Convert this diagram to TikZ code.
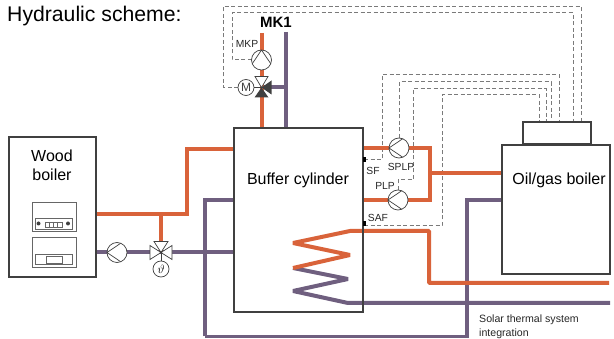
\documentclass[tikz,border=0pt]{standalone}
\usepackage{fontspec}
\setmainfont{Liberation Sans}
\usetikzlibrary{calc,backgrounds}
\definecolor{hotpipe}{HTML}{D9633A}
\definecolor{coldpipe}{HTML}{6F5F7F}
\definecolor{boxline}{HTML}{404040}
\definecolor{signalline}{HTML}{7A7A7A}
\tikzset{
  hot/.style={draw=hotpipe,line width=4pt},
  cold/.style={draw=coldpipe,line width=4pt},
  signal/.style={draw=signalline,line width=1pt,dash pattern=on 4pt off 2.5pt},
  box/.style={draw=boxline,line width=2pt,outer sep=0pt,inner sep=0pt},
  panel/.style={draw=boxline!80,line width=0.8pt},
  pump/.style={circle,draw=boxline,fill=white,line width=0.7pt,minimum size=20pt,inner sep=0pt,outer sep=0pt,
    path picture={\draw[boxline,line width=0.7pt] ($(path picture bounding box.center)+(#1+112:10pt)$) --
      ($(path picture bounding box.center)+(#1:10pt)$) -- ($(path picture bounding box.center)+(#1-112:10pt)$);}},
  dial/.style={circle,draw=boxline,fill=white,line width=0.7pt,minimum size=16pt,inner sep=0pt,outer sep=0pt},
  lab/.style={inner sep=0pt,text=black!85,font=\fontsize{10.3}{12}\selectfont},
  big/.style={inner sep=0pt,align=center,font=\fontsize{16}{19}\selectfont},
}
\begin{document}
\begin{tikzpicture}[x=1pt,y=-1pt]
  \useasboundingbox (0,0) rectangle (614,339);

  \node[box,minimum width=87pt,minimum height=140pt] (wood) at (52.5,207) {};
  \node[box,minimum width=129pt,minimum height=184pt] (buffer) at (298.5,220) {};
  \node[box,minimum width=108pt,minimum height=129pt] (gas) at (556,209.5) {};
  \node[box,minimum width=68pt,minimum height=22pt] (gasctl) at (557,133) {};

  \node[pump=90] (mkp) at (261.5,60) {};
  \node[pump=180] (woodpump) at (117,252.5) {};
  \node[pump=180] (splp) at (399,148) {};
  \node[pump=180] (plp) at (398,200) {};
  \node[dial,text=boxline] (motor) at (246,87.5) {\fontsize{12}{12}\selectfont M};
  \node[dial] (sens) at (161,269) {\fontsize{12}{12}\selectfont $\vartheta$};
  \coordinate (mixvalve) at (261.5,87.5);
  \coordinate (woodvalve) at (161,252.5);
  \coordinate (sf) at (364,160);
  \coordinate (saf) at (364,226);
  \coordinate (coilA) at (429,231);
  \coordinate (coilB) at (293,268);

  \begin{pgfonlayer}{background}
  \draw[signal] (motor.west) -| (223,6.5) -| (581,0 |- gasctl.north);
  \draw[signal] (mkp.west) -| (232,13) -| (573,0 |- gasctl.north);
  \draw[signal] (sf) -| (382,75) -| (559,0 |- gasctl.north);
  \draw[signal] (splp.north) |- (551,82) -- (551,0 |- gasctl.north);
  \draw[signal] (plp.north) |- (413,180) |- (546,89) -- (546,0 |- gasctl.north);
  \draw[signal] (saf) -| (442,95) -| (539,0 |- gasctl.north);

  \draw[cold,line width=3.5pt] (205,336.5) -- (205,200) -- (buffer.west |- 205,200);
  \draw[cold,line width=3.5pt] (205,336.5) -- (467,336.5) -- (467,200) -- (gas.west |- 467,200);
  \draw[cold] (wood.east |- woodpump) -- (woodpump);
  \draw[cold] (woodpump) -- (woodvalve) -- (buffer.west |- woodvalve);
  \draw[cold] (286,32) -- (buffer.north -| 286,32);
  \draw[cold] (mixvalve) -- (286,87.5);
  \draw[hot] (mkp |- 0,33) -- (mkp);
  \draw[hot] (mkp) -- (mixvalve) -- (buffer.north -| mkp);
  \draw[hot] (wood.east |- 0,214) -- (187,214) -- (187,149) -- (buffer.west |- 0,149);
  \draw[hot] (161,214) -- (woodvalve);
  \draw[hot] (buffer.east |- splp) -- (splp);
  \draw[hot] (splp) -- (430,148) -- (430,200) -- (plp);
  \draw[hot] (plp) -- (buffer.east |- plp);
  \draw[hot] (430,173) -- (gas.west |- 0,173);
  \draw[cold,line join=bevel] (coilB) -- (348,279) -- (293,291) -- (348,303) -- (610,303);
  \draw[hot,line join=bevel] (609,283) -- (429,283) -- (coilA) -- (350,231) -- (293,243) -- (350,255) -- (coilB);
  \end{pgfonlayer}

  \draw[boxline,line width=0.7pt] (motor.east) -- (mixvalve);
  \fill[boxline] (mixvalve) -- ++(-7,10) -- ++(14,0) -- cycle;
  \fill[boxline] (mixvalve) -- ++(10,-7) -- ++(0,14) -- cycle;
  \draw[boxline,fill=white,line width=0.7pt] (mixvalve) -- ++(-6.5,-11) -- ++(13,0) -- cycle;
  \draw[boxline,fill=white,line width=0.7pt] (woodvalve) -- ++(-7,-11) -- ++(14,0) -- cycle;
  \draw[boxline,fill=white,line width=0.7pt] (woodvalve) -- ++(-11,-7) -- ++(0,14) -- cycle;
  \draw[boxline,fill=white,line width=0.7pt] (woodvalve) -- ++(11,-7) -- ++(0,14) -- cycle;
  \fill[boxline] (woodvalve) circle (1.2);
  \draw[boxline,line width=0.7pt] (woodvalve) -- (sens);
  \fill[black] (363,157.5) rectangle (365.5,162.5);
  \fill[black] (363,221) rectangle (365.5,226);

  \draw[panel] (32,202) rectangle (76,231);
  \draw[panel] (35,218) rectangle (72,229);
  \draw[panel,fill=white] (45,222) rectangle (62,227);
  \foreach \x in {49,53,57} \draw[panel] (\x,222) -- (\x,227);
  \fill[boxline] (38.5,223.5) circle (2);
  \fill[boxline] (68,223.5) circle (2);
  \draw[panel] (32,237) rectangle (76,267);
  \draw[panel] (35,254) rectangle (72,264);
  \draw[panel] (46,256) rectangle (62,263);

  \node[inner sep=0pt,anchor=base west,font=\fontsize{21.2}{24}\selectfont] (title) at (7,21.5) {Hydraulic scheme:};
  \node[inner sep=0pt,font=\fontsize{15}{17}\selectfont\bfseries] (mkone) at (276,22) {MK1};
  \node[big] (woodtext) at (52,165.5) {Wood\\boiler};
  \node[big] (buffertext) at (298,180) {Buffer cylinder};
  \node[big] (gastext) at (559,180) {Oil/gas boiler};
  \node[lab] (mkptext) at (247,44) {MKP};
  \node[lab] (sftext) at (373,171) {SF};
  \node[lab] (splptext) at (401,167) {SPLP};
  \node[lab] (plptext) at (385,186) {PLP};
  \node[lab] (saftext) at (378,218) {SAF};
  \node[inner sep=0pt,anchor=north west,align=left,text=black!85,font=\fontsize{10.6}{13.3}\selectfont] (solar) at (479,315) {Solar thermal system\\integration};
\end{tikzpicture}
\end{document}
